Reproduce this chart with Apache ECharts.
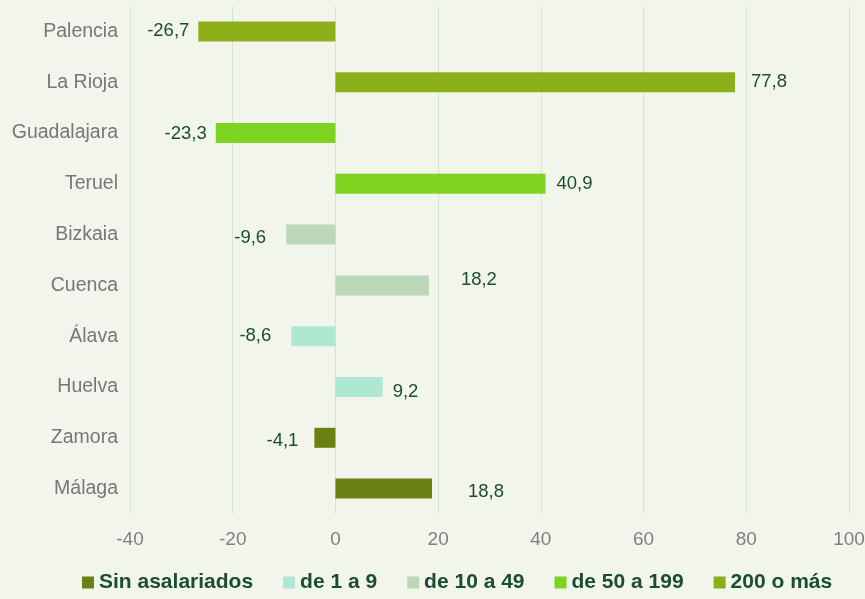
<!DOCTYPE html>
<html>
<head>
<meta charset="utf-8" />
<script src="https://cdn.jsdelivr.net/npm/echarts@6/dist/echarts.min.js"></script>
<title>Provincias</title>
<style>
  html, body { margin: 0; padding: 0; background: #f2f5eb; }
  #main { width: 865px; height: 599px; }
</style>
</head>
<body>
<div id="main"></div>
<script>
// categorias de arriba a abajo
var provincias = ['Palencia', 'La Rioja', 'Guadalajara', 'Teruel', 'Bizkaia', 'Cuenca', 'Álava', 'Huelva', 'Zamora', 'Málaga'];
var tramos = ['Sin asalariados', 'de 1 a 9', 'de 10 a 49', 'de 50 a 199', '200 o más'];
var colores = ['#6b8013', '#aee8d3', '#bcd8b9', '#7ed321', '#8daf19'];

// valores por tramo ('-' = sin dato en esa provincia)
var sinAsalariados = ['-', '-', '-', '-', '-', '-', '-', '-', -4.1, 18.8];
var de1a9 = ['-', '-', '-', '-', '-', '-', -8.6, 9.2, '-', '-'];
var de10a49 = ['-', '-', '-', '-', -9.6, 18.2, '-', '-', '-', '-'];
var de50a199 = ['-', '-', -23.3, 40.9, '-', '-', '-', '-', '-', '-'];
var de200 = [-26.7, 77.8, '-', '-', '-', '-', '-', '-', '-', '-'];
var valores = [sinAsalariados, de1a9, de10a49, de50a199, de200];

// desplazamiento de etiquetas como en el original
var offsets = [[-1, 0], [8, 0], [-1, 1], [3, 0], [-12, 3], [24, -5], [-12, 0], [2, 5], [-8, 3], [28, 3]];

var myChart = echarts.init(document.getElementById('main'));

var series = [];
for (var s = 0; s < tramos.length; s++) {
  var data = [];
  for (var i = 0; i < provincias.length; i++) {
    var v = valores[s][i];
    if (v === '-') { data.push('-'); continue; }
    data.push({
      value: v,
      label: { position: v < 0 ? 'left' : 'right', offset: offsets[i] }
    });
  }
  series.push({
    name: tramos[s],
    type: 'bar',
    stack: 'total',
    barWidth: 20,
    itemStyle: { color: colores[s] },
    label: {
      show: true,
      color: '#1b4d2f',
      fontSize: 18.5,
      fontFamily: 'Liberation Sans',
      distance: 8,
      formatter: function (p) { return p.value.toFixed(1).replace('.', ','); }
    },
    data: data
  });
}

var option = {
  backgroundColor: '#f2f5eb',
  animation: false,
  grid: { left: 130, right: 16, top: 6, bottom: 85, containLabel: false, outerBoundsMode: 'none' },
  legend: {
    bottom: 1,
    left: 77,
    itemWidth: 12,
    itemHeight: 12,
    itemGap: 30,
    icon: 'rect',
    textStyle: { color: '#1b4d2f', fontSize: 21, fontWeight: 'bold', fontFamily: 'Liberation Sans' },
    data: tramos
  },
  xAxis: {
    type: 'value',
    min: -40,
    max: 100,
    interval: 20,
    axisLine: { show: false },
    axisTick: { show: false },
    splitLine: { lineStyle: { color: '#d5e6cf', width: 1 } },
    axisLabel: { color: '#808080', fontSize: 19, fontFamily: 'Liberation Sans', margin: 16 }
  },
  yAxis: {
    type: 'category',
    inverse: true,
    data: provincias,
    axisLine: { show: false },
    axisTick: { show: false },
    axisLabel: { color: '#777777', fontSize: 19.5, fontFamily: 'Liberation Sans', margin: 12 }
  },
  series: series
};

myChart.setOption(option);
</script>
</body>
</html>
